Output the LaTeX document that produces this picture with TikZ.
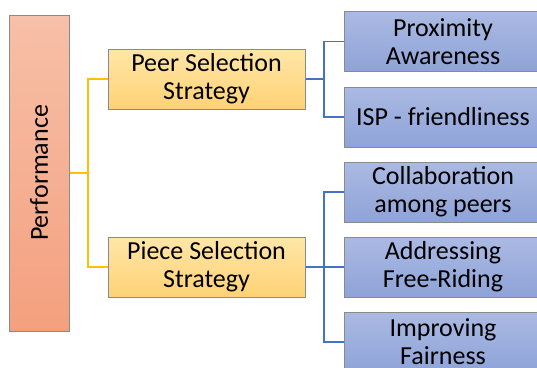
\documentclass[tikz,border=0pt]{standalone}
\usepackage{fontspec}
\setmainfont{Carlito}
\definecolor{rootTop}{HTML}{F7C0A8}
\definecolor{rootBot}{HTML}{F4A07E}
\definecolor{midTop}{HTML}{FFE6A8}
\definecolor{midBot}{HTML}{FFD275}
\definecolor{leafTop}{HTML}{ABBAE3}
\definecolor{leafBot}{HTML}{8EA3D8}
\definecolor{edgeGrey}{HTML}{8A8A8A}
\definecolor{goldLine}{HTML}{FFC000}
\definecolor{blueLine}{HTML}{4472C4}
\tikzset{
  box/.style={draw=edgeGrey, line width=1pt, rectangle, inner sep=0pt, align=center,
    font=\fontsize{26}{28}\selectfont},
  rootbox/.style={box, top color=rootTop, bottom color=rootBot, minimum width=60pt, minimum height=316pt},
  midbox/.style={box, top color=midTop, bottom color=midBot, minimum width=197pt, minimum height=60pt},
  leafbox/.style={box, top color=leafTop, bottom color=leafBot, minimum width=198pt, minimum height=60pt},
  goldlink/.style={draw=goldLine, line width=1.6pt},
  bluelink/.style={draw=blueLine, line width=1.6pt},
}
\begin{document}
\begin{tikzpicture}[x=1pt, y=-1pt]
\useasboundingbox (0,0) rectangle (537,367);
\clip (0,0) rectangle (537,367);
% root
\node[rootbox] (perf) at (39,173) {};
\node[rotate=90, font=\fontsize{26}{28}\selectfont] (perflabel) at (perf.center) {Performance};
% second level
\node[midbox] (peer) at (206.5,79) {Peer Selection\\Strategy};
\node[midbox] (piece) at (206.5,267) {Piece Selection\\Strategy};
% leaves
\node[leafbox] (prox) at (443,41.5) {Proximity\\Awareness};
\node[leafbox] (isp) at (443,117) {ISP - friendliness};
\node[leafbox] (collab) at (443,192) {Collaboration\\among peers};
\node[leafbox] (free) at (443,267) {Addressing\\Free-Riding};
\node[leafbox] (fair) at (443,342) {Improving\\Fairness};
% gold connectors
\coordinate (gj) at (88,173);
\draw[goldlink] (perf.east) -- (gj);
\draw[goldlink] (peer.west) -| (gj) |- (piece.west);
% blue connectors
\coordinate (bj1) at (324,79);
\coordinate (bj2) at (324,267);
\draw[bluelink] (peer.east) -- (bj1);
\draw[bluelink] (prox.west) -| (bj1) |- (isp.west);
\draw[bluelink] (piece.east) -- (free.west);
\draw[bluelink] (collab.west) -| (bj2) |- (fair.west);
\end{tikzpicture}
\end{document}
